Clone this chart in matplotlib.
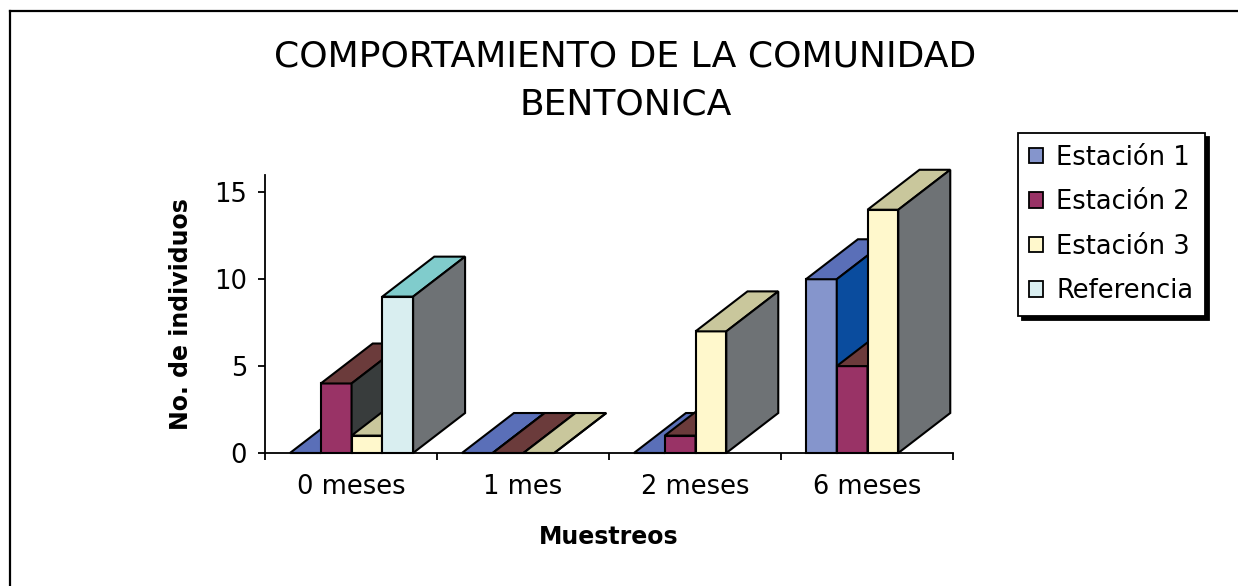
import matplotlib.pyplot as plt
from matplotlib.patches import Polygon, Patch
from matplotlib.lines import Line2D

plt.rcParams['font.family'] = ['DejaVu Sans']

# data
categorias = ['0 meses', '1 mes', '2 meses', '6 meses']
estacion1 = [0, 0, 0, 10]
estacion2 = [4, 0, 1, 5]
estacion3 = [1, 0, 7, 14]
referencia = [9, None, None, None]

series = ['Estación 1', 'Estación 2', 'Estación 3', 'Referencia']
valores = [estacion1, estacion2, estacion3, referencia]

# colours: front, top, side of each 3d column
frente = ['#8595cc', '#993366', '#fff8cc', '#d9eef0']
tapa = ['#5a6fb8', '#6b3b3b', '#c9c79c', '#80cccc']
lado = ['#0a4c9e', '#383c3c', '#6e7275', '#6e7275']

# 3d look
x0 = 0.145      # first column offset inside a category
ancho = 0.179   # column width
dx = 0.302      # depth shift in x
dy = 2.3        # depth shift in y

fig = plt.figure(figsize=(12.38, 5.86), dpi=100)
ax = fig.add_axes([0.2141, 0.2270, 0.5557, 0.4744])

for i in range(len(categorias)):
    for j in range(len(series)):
        v = valores[j][i]
        if v is None:
            continue
        a = i + x0 + j * ancho
        b = a + ancho
        caras = [
            ([(a, 0), (b, 0), (b, v), (a, v)], frente[j]),
            ([(a, v), (b, v), (b + dx, v + dy), (a + dx, v + dy)], tapa[j]),
            ([(b, 0), (b + dx, dy), (b + dx, v + dy), (b, v)], lado[j]),
        ]
        for pts, c in caras:
            ax.add_patch(Polygon(pts, closed=True, facecolor=c, edgecolor='black',
                                 linewidth=1.5, clip_on=False, zorder=3))

ax.set_xlim(0, 4)
ax.set_ylim(0, 16)
for s in ['top', 'right']:
    ax.spines[s].set_visible(False)
for s in ['left', 'bottom']:
    ax.spines[s].set_linewidth(1.3)

ax.set_yticks([0, 5, 10, 15])
ax.tick_params(axis='y', direction='out', length=5, width=1.3, labelsize=18.5, pad=8)
ax.set_xticks([0, 1, 2, 3, 4])
ax.set_xticklabels([])
ax.tick_params(axis='x', which='major', direction='out', length=5, width=1.3)
ax.set_xticks([0.5, 1.5, 2.5, 3.5], minor=True)
ax.set_xticklabels(categorias, minor=True)
ax.tick_params(axis='x', which='minor', length=0, labelsize=18.5, pad=15)

ax.set_ylabel('No. de individuos', fontsize=17, fontweight='bold')
ax.yaxis.set_label_coords(-0.105, 0.5)
ax.set_xlabel('Muestreos', fontsize=17, fontweight='bold', va='top')
ax.xaxis.set_label_coords(0.5, -0.26)

fig.text(0.505, 0.932, 'COMPORTAMIENTO DE LA COMUNIDAD\nBENTONICA',
         ha='center', va='top', fontsize=26, linespacing=1.5)

handles = [Patch(facecolor=frente[j], edgecolor='black', linewidth=1.3) for j in range(len(series))]
leg = ax.legend(handles, series, loc='upper left', bbox_to_anchor=(0.822, 0.773),
                bbox_transform=fig.transFigure, borderaxespad=0, fontsize=18.5,
                handlelength=0.55, handleheight=0.55, handletextpad=0.5,
                labelspacing=0.72, borderpad=0.45, fancybox=False,
                shadow={'color': 'black', 'alpha': 1, 'ox': 3, 'oy': -3})
leg.get_frame().set_edgecolor('black')
leg.get_frame().set_linewidth(1.3)

# outer chart border (top and left visible)
fig.add_artist(Line2D([0.0077, 1.0], [0.982, 0.982], color='black', linewidth=1.6))
fig.add_artist(Line2D([0.0077, 0.0077], [0.0, 0.982], color='black', linewidth=1.6))

fig.savefig('out.png', dpi=100)
